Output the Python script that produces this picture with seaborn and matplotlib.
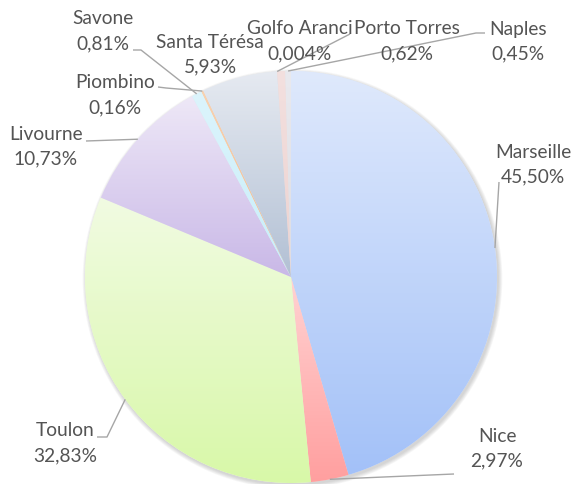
import numpy as np
import matplotlib
matplotlib.use("Agg")
import matplotlib.pyplot as plt
import matplotlib.colors as mcolors
from matplotlib.patches import Circle
import seaborn as sns

# ---------------- data ----------------
ports = ["Marseille", "Nice", "Toulon", "Livourne", "Savone", "Piombino",
         "Santa Térésa", "Golfo Aranci", "Porto Torres", "Naples"]
shares = [45.50, 2.97, 32.83, 10.73, 0.81, 0.16, 5.93, 0.004, 0.62, 0.45]

# gradient colours (top, bottom) per slice
top_colors = ["#dfe9fc", "#ffd3d3", "#f1fbe2", "#eee8f7", "#dcf4fc", "#f9d2b0",
              "#e6eaf1", "#f3cfc8", "#f3e0df", "#e9e9ee"]
bottom_colors = ["#a3c1f8", "#ff9f9f", "#d8f8a8", "#c9b8e7", "#c8eef9", "#f5b98a",
                 "#b2c0d4", "#eab8ae", "#ecd2d0", "#dcdce2"]

# label layout (pixel positions of the first text line, centre)
label_pos = {
    "Marseille": (533, 152), "Nice": (497, 436), "Toulon": (65, 431),
    "Livourne": (46, 134), "Savone": (103, 19), "Piombino": (115, 83),
    "Santa Térésa": (210, 42), "Golfo Aranci": (300, 29),
    "Porto Torres": (407, 29), "Naples": (518, 29),
}
# leader line points on the label side (pixels); wedge end added from data
leader_start = {
    "Marseille": [(499, 182)],
    "Nice": [(454, 474)],
    "Toulon": [(97, 437), (107, 437)],
    "Livourne": [(86, 141)],
    "Savone": [(133, 50), (141, 50)],
    "Piombino": [(158, 87), (166, 88)],
    "Golfo Aranci": [(350, 34)],
    "Naples": [(485, 33), (476, 33)],
}

W, H = 574, 484
CX, CY, R = 291, 277, 206

sns.set_theme(style="white")
plt.rcParams["font.family"] = ["Lato", "DejaVu Sans"]

fig = plt.figure(figsize=(W / 100, H / 100), dpi=100)
ax = fig.add_axes([0, 0, 1, 1])
ax.set_xlim(0, W)
ax.set_ylim(0, H)
ax.axis("off")

center = (CX, H - CY)

# soft shadow
for i in range(6):
    ax.add_patch(Circle((center[0] + 1.5, center[1] - 2.0), R + 0.3 + i * 0.7,
                        facecolor="#7f7f7f", edgecolor="none", alpha=0.06, zorder=0))

palette = sns.color_palette(top_colors)
wedges, _ = ax.pie(shares, colors=palette, startangle=90, counterclock=False,
                   center=center, radius=R, wedgeprops=dict(linewidth=0),
                   frame=True)
ax.set_xlim(0, W)
ax.set_ylim(0, H)
ax.set_aspect("auto")
ax.axis("off")

# gradient fills clipped to wedges
inv = ax.transData.inverted()
for w, ct, cb in zip(wedges, top_colors, bottom_colors):
    w.set_zorder(1)
    bb = w.get_window_extent()
    (x0, y0), (x1, y1) = inv.transform([[bb.x0, bb.y0], [bb.x1, bb.y1]])
    t = np.array(mcolors.to_rgb(ct))
    b = np.array(mcolors.to_rgb(cb))
    frac = np.linspace(0, 1, 256)[:, None]
    grad = b[None, :] * (1 - frac) + t[None, :] * frac
    img = np.repeat(grad[:, None, :], 2, axis=1)
    im = ax.imshow(img, extent=[x0, x1, y0, y1], origin="lower",
                   aspect="auto", interpolation="bilinear", zorder=2)
    im.set_clip_path(w)

ax.set_xlim(0, W)
ax.set_ylim(0, H)

# wedge mid points
total = sum(shares)
cum = 0.0
mid_pts = {}
for name, v in zip(ports, shares):
    ang = 90 - (cum + v / 2) / total * 360
    cum += v
    rad = np.deg2rad(ang)
    mid_pts[name] = (center[0] + R * np.cos(rad), center[1] + R * np.sin(rad))

txt_color = "#545454"
line_color = "#a6a6a6"
fs = 13.8

def fmt(v):
    d = 3 if v < 0.1 else 2
    return f"{v:.{d}f}".replace(".", ",") + "%"

for name, v in zip(ports, shares):
    px, py = label_pos[name]
    ax.text(px, H - py, name, ha="center", va="center", fontsize=fs,
            color=txt_color, zorder=5)
    ax.text(px, H - py - 25, fmt(v), ha="center", va="center", fontsize=fs,
            color=txt_color, zorder=5)
    if name in leader_start:
        pts = [(x, H - y) for x, y in leader_start[name]] + [mid_pts[name]]
        xs, ys = zip(*pts)
        ax.plot(xs, ys, color=line_color, lw=1.0, zorder=4,
                solid_capstyle="butt")

fig.savefig("out.png", dpi=100)
